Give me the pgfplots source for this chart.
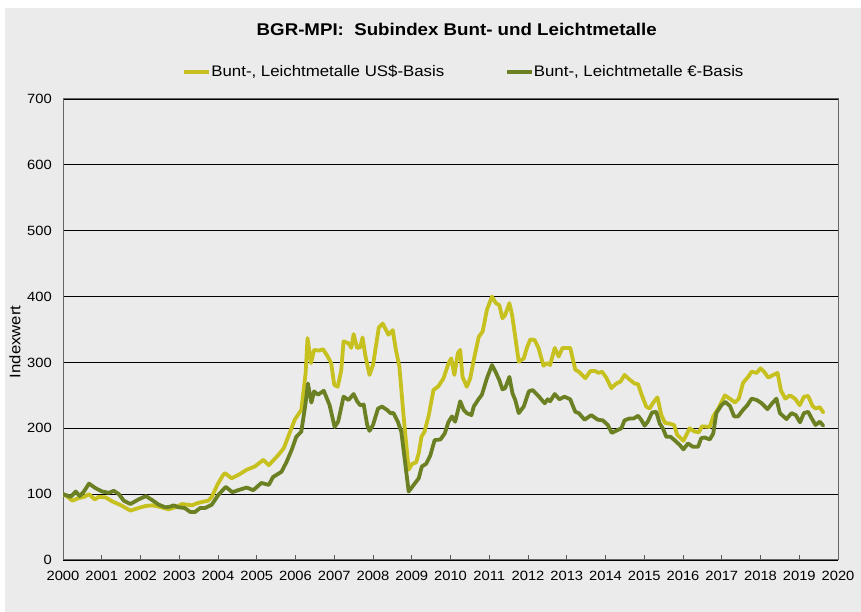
\documentclass[border=0pt]{standalone}
\usepackage{pgfplots}
\pgfplotsset{compat=1.18}
\usepackage{fontspec}
\setmainfont{Liberation Sans}[FakeStretch=1.1]
\definecolor{bgcol}{RGB}{235,235,235}
\definecolor{usd}{RGB}{199,193,31}
\definecolor{eur}{RGB}{107,128,35}
\begin{document}
\begin{tikzpicture}[x=1bp,y=1bp]
\useasboundingbox (0,0) rectangle (861,612);
\fill[white] (0,0) rectangle (861,612);
\fill[bgcol] (5,0) rectangle (861,604);
\begin{axis}[
  at={(63bp,52bp)}, anchor=south west,
  scale only axis, width=775bp, height=461bp,
  xmin=2000, xmax=2020, ymin=0, ymax=700,
  xtick={2000,2001,...,2020},
  ytick={0,100,...,700},
  /pgf/number format/assume math mode=true,
  x tick label style={/pgf/number format/1000 sep={}, font=\fontsize{13.4bp}{15bp}\selectfont, inner sep=0pt, yshift=-11bp},
  y tick label style={font=\fontsize{13.4bp}{15bp}\selectfont, inner sep=0pt, xshift=-11bp},
  xtick pos=bottom, xtick align=inside, major tick length=5bp,
  ytick style={draw=none},
  xtick style={draw=black!65, line width=0.8bp},
  ymajorgrids, grid style={draw=black, line width=0.8bp},
  axis line style={draw=black!60, line width=1bp},
  axis background/.style={fill=bgcol},
  title={BGR-MPI:\ \ Subindex Bunt- und Leichtmetalle},
  title style={at={(axis description cs:0.508,1.139)}, anchor=center, font=\bfseries\fontsize{17bp}{19bp}\selectfont},
  ylabel={Indexwert},
  ylabel style={at={(axis description cs:-0.062,0.473)}, anchor=center, font=\fontsize{15.2bp}{17bp}\selectfont},
  legend columns=2,
  legend style={draw=none, fill=none, inner sep=0pt, at={(axis description cs:0.516,1.0586)}, anchor=center,
    font=\fontsize{15.3bp}{17bp}\selectfont, nodes={inner sep=0.3bp},
    /tikz/every even column/.append style={column sep=60bp}},
  legend image code/.code={\draw[#1, line width=4bp, line cap=butt] (0bp,0bp) -- (25bp,0bp);},
  every axis plot/.append style={line width=3.8bp, line join=round, line cap=round},
]
\addplot[usd] coordinates {
(2000.0,100) (2000.12,96) (2000.24,90) (2000.4,94) (2000.55,96) (2000.67,100) (2000.82,92) (2000.93,96)
(2001.1,95) (2001.27,89) (2001.5,83) (2001.74,75) (2001.95,79) (2002.13,82) (2002.3,83) (2002.47,81)
(2002.72,77) (2002.9,80) (2003.07,85) (2003.2,84) (2003.33,83) (2003.45,86) (2003.58,88) (2003.75,90)
(2003.84,96) (2004.0,116) (2004.12,128) (2004.18,132) (2004.35,124) (2004.52,129) (2004.74,137) (2004.95,142)
(2005.17,152) (2005.31,144) (2005.55,159) (2005.7,170) (2005.81,187) (2005.98,213) (2006.15,228) (2006.26,283)
(2006.31,337) (2006.4,299) (2006.48,319) (2006.6,318) (2006.71,320) (2006.82,310) (2006.92,299) (2007.0,266)
(2007.09,263) (2007.18,288) (2007.24,332) (2007.37,329) (2007.44,322) (2007.5,343) (2007.59,322) (2007.67,323)
(2007.73,338) (2007.8,311) (2007.91,281) (2008.0,296) (2008.15,353) (2008.25,359) (2008.4,342) (2008.51,349)
(2008.59,319) (2008.68,294) (2008.79,218) (2008.92,137) (2009.01,146) (2009.11,148) (2009.18,162) (2009.25,187)
(2009.33,195) (2009.44,220) (2009.56,258) (2009.69,264) (2009.82,276) (2009.95,299) (2010.02,306) (2010.1,281)
(2010.19,314) (2010.25,319) (2010.31,278) (2010.42,263) (2010.51,276) (2010.6,304) (2010.73,339) (2010.83,347)
(2010.94,380) (2011.07,400) (2011.17,390) (2011.26,387) (2011.34,367) (2011.41,372) (2011.52,390) (2011.59,372)
(2011.67,339) (2011.76,301) (2011.89,306) (2011.97,322) (2012.06,335) (2012.17,334) (2012.27,322) (2012.4,295)
(2012.49,299) (2012.57,296) (2012.69,322) (2012.79,309) (2012.89,322) (2013.09,322) (2013.22,289) (2013.31,286)
(2013.48,276) (2013.61,287) (2013.73,287) (2013.82,284) (2013.91,286) (2014.02,277) (2014.15,261) (2014.28,268)
(2014.39,271) (2014.49,281) (2014.62,274) (2014.75,268) (2014.84,267) (2014.92,253) (2015.05,233) (2015.14,230)
(2015.22,238) (2015.34,247) (2015.44,220) (2015.54,208) (2015.66,207) (2015.77,205) (2015.85,190) (2016.01,181)
(2016.17,200) (2016.3,195) (2016.41,194) (2016.49,203) (2016.69,202) (2016.78,218) (2016.91,230) (2017.08,250)
(2017.23,244) (2017.34,239) (2017.44,245) (2017.55,269) (2017.68,278) (2017.77,286) (2017.9,284) (2018.0,291)
(2018.09,286) (2018.2,277) (2018.33,281) (2018.44,284) (2018.53,257) (2018.64,245) (2018.76,250) (2018.89,245)
(2019.01,235) (2019.12,248) (2019.23,249) (2019.34,234) (2019.42,230) (2019.53,232) (2019.62,224)
};
\addlegendentry{Bunt-, Leichtmetalle US\$-Basis}
\addplot[eur] coordinates {
(2000.0,100) (2000.2,96) (2000.33,104) (2000.43,97) (2000.54,104) (2000.67,116) (2000.84,109) (2001.01,104)
(2001.18,102) (2001.31,105) (2001.44,100) (2001.57,90) (2001.74,85) (2001.95,92) (2002.14,97) (2002.3,91)
(2002.47,84) (2002.64,80) (2002.77,81) (2002.85,83) (2002.98,80) (2003.14,79) (2003.28,73) (2003.41,73)
(2003.54,79) (2003.67,79) (2003.84,84) (2004.01,99) (2004.2,111) (2004.37,103) (2004.52,106) (2004.74,110)
(2004.91,106) (2005.12,117) (2005.31,114) (2005.42,126) (2005.64,134) (2005.77,149) (2005.9,167) (2006.02,187)
(2006.15,195) (2006.26,238) (2006.32,268) (2006.41,239) (2006.48,256) (2006.58,251) (2006.73,257) (2006.88,235)
(2007.01,202) (2007.1,210) (2007.24,248) (2007.37,243) (2007.5,252) (2007.59,241) (2007.67,235) (2007.76,236)
(2007.85,205) (2007.91,196) (2008.0,205) (2008.13,230) (2008.23,233) (2008.36,228) (2008.45,223) (2008.53,223)
(2008.64,210) (2008.73,195) (2008.82,152) (2008.92,104) (2009.05,114) (2009.18,124) (2009.26,142) (2009.37,146)
(2009.48,159) (2009.59,182) (2009.74,183) (2009.85,192) (2009.95,210) (2010.04,218) (2010.12,210) (2010.25,241)
(2010.34,228) (2010.42,223) (2010.54,220) (2010.6,233) (2010.71,243) (2010.81,251) (2010.94,276) (2011.07,296)
(2011.16,286) (2011.26,273) (2011.34,259) (2011.41,261) (2011.52,278) (2011.6,253) (2011.67,243) (2011.76,223)
(2011.89,233) (2012.02,256) (2012.12,258) (2012.27,249) (2012.43,238) (2012.51,244) (2012.57,241) (2012.69,252)
(2012.81,244) (2012.94,248) (2013.09,244) (2013.22,225) (2013.31,223) (2013.46,213) (2013.63,220) (2013.8,213)
(2013.93,212) (2014.06,205) (2014.16,193) (2014.3,197) (2014.41,200) (2014.49,212) (2014.62,215) (2014.73,215)
(2014.84,219) (2014.92,213) (2015.01,204) (2015.09,210) (2015.2,224) (2015.31,225) (2015.4,207) (2015.48,200)
(2015.57,187) (2015.68,187) (2015.78,182) (2015.91,175) (2016.01,168) (2016.13,177) (2016.25,172) (2016.39,172)
(2016.47,185) (2016.56,186) (2016.69,183) (2016.78,192) (2016.86,223) (2016.99,235) (2017.09,240) (2017.21,234)
(2017.32,218) (2017.42,218) (2017.55,228) (2017.66,235) (2017.77,245) (2017.9,243) (2018.03,238) (2018.18,229)
(2018.3,238) (2018.41,245) (2018.5,223) (2018.67,214) (2018.8,223) (2018.91,220) (2019.02,209) (2019.12,223)
(2019.23,225) (2019.32,215) (2019.42,205) (2019.53,210) (2019.62,204)
};
\addlegendentry{Bunt-, Leichtmetalle \texteuro-Basis}
\end{axis}
\end{tikzpicture}
\end{document}
